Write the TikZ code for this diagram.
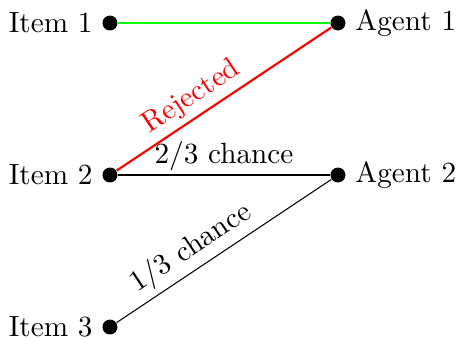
\documentclass[tikz,border=0pt]{standalone}
\begin{document}
\begin{tikzpicture}[
  dot/.style={circle,fill=black,inner sep=0pt,minimum size=5.6pt},
  lbl/.style={font=\fontsize{10.95}{13}\selectfont},
  every label/.style={lbl},
  label distance=0pt
]
\useasboundingbox (-1.447,0.303) rectangle (4.553,-4.145);
\node[dot,label=left:Item 1] (i1) at (0,0) {};
\node[dot,label=left:Item 2] (i2) at (0,-2) {};
\node[dot,label=left:Item 3] (i3) at (0,-4) {};
\node[dot,label=right:Agent 1] (a1) at (3,0) {};
\node[dot,label=right:Agent 2] (a2) at (3,-2) {};
\draw[green,thick] (i1) -- (a1);
\draw[red,thick] (i2) -- node[pos=0.4,above,sloped,lbl,inner sep=2pt]{Rejected} (a1);
\draw (i2) -- node[above,lbl,inner sep=1.5pt]{2/3 chance} (a2);
\draw (i3) -- node[pos=0.4,above,sloped,lbl,inner sep=2pt]{1/3 chance} (a2);
\end{tikzpicture}
\end{document}
